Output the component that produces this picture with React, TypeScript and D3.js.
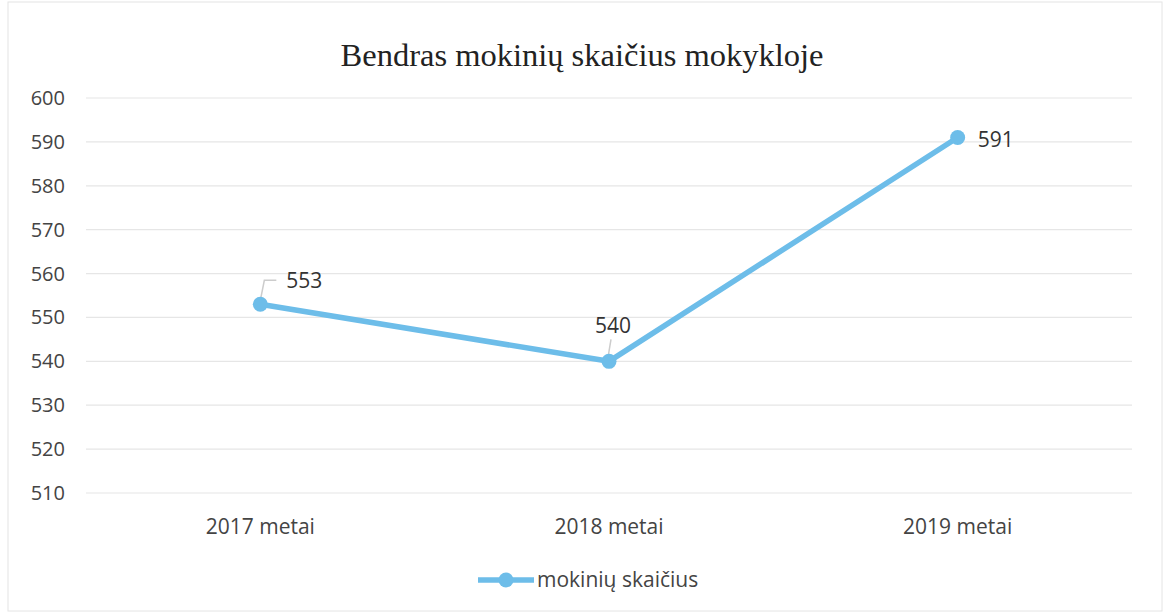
import React from "react";
import * as d3 from "d3";

const categories = ["2017 metai", "2018 metai", "2019 metai"];
const values = [553, 540, 591];
const yTicks = [510, 520, 530, 540, 550, 560, 570, 580, 590, 600];
const seriesName = "mokinių skaičius";
const title = "Bendras mokinių skaičius mokykloje";

const W = 1166;
const H = 613;
const left = 86;
const right = 1132;
const top = 98;
const bottom = 493;
const color = "#6dbde9";
const font = "'Open Sans', 'Liberation Sans', sans-serif";

export default function App() {
  const x = d3.scaleBand<string>().domain(categories).range([left, right]);
  const y = d3.scaleLinear().domain([510, 600]).range([bottom, top]);
  const cx = (c: string) => (x(c) as number) + x.bandwidth() / 2;
  const line = d3
    .line<number>()
    .x((_, i) => cx(categories[i]))
    .y((d) => y(d));

  const labelPos = [
    { dx: 26, dy: -24, anchor: "start", leader: true },
    { dx: -14, dy: -36, anchor: "start", leader: true },
    { dx: 20, dy: 2, anchor: "start", leader: false },
  ];

  return (
    <svg width={W} height={H} style={{ position: "absolute", left: 0, top: 0, background: "#fff" }}>
      <rect x={8} y={2} width={W - 12} height={H - 4} fill="#fff" stroke="#e4e4e4" />
      <text x={582} y={66} textAnchor="middle" fontFamily="'Liberation Serif', 'DejaVu Serif', serif" fontSize={32.5} fill="#222">
        {title}
      </text>
      {yTicks.map((t) => (
        <g key={t}>
          <line x1={left} x2={right} y1={y(t)} y2={y(t)} stroke="#e6e6e6" strokeWidth={1.2} />
          <text x={65} y={y(t)} dy="0.35em" textAnchor="end" fontFamily={font} fontSize={20} fill="#444">
            {t}
          </text>
        </g>
      ))}
      {categories.map((c) => (
        <text key={c} x={cx(c)} y={527} dy="0.35em" textAnchor="middle" fontFamily={font} fontSize={21} fill="#444">
          {c}
        </text>
      ))}
      <path d={line(values) || ""} fill="none" stroke={color} strokeWidth={5.5} strokeLinejoin="round" />
      {values.map((v, i) => {
        const px = cx(categories[i]);
        const py = y(v);
        const lp = labelPos[i];
        return (
          <g key={i}>
            {lp.leader && i === 0 && (
              <polyline points={`${px},${py - 4} ${px + 4},${py - 24} ${px + 16},${py - 24}`} fill="none" stroke="#ccc" strokeWidth={1.5} />
            )}
            {lp.leader && i === 1 && (
              <line x1={px - 1} y1={py - 4} x2={px + 2} y2={py - 22} stroke="#ccc" strokeWidth={1.5} />
            )}
            <circle cx={px} cy={py} r={7.5} fill={color} />
            <text x={px + lp.dx} y={py + lp.dy} dy="0.35em" textAnchor={lp.anchor} fontFamily={font} fontSize={21} fill="#333">
              {v}
            </text>
          </g>
        );
      })}
      <g>
        <line x1={478} x2={534} y1={580} y2={580} stroke={color} strokeWidth={5.5} />
        <circle cx={506} cy={580} r={7.5} fill={color} />
        <text x={537} y={580} dy="0.35em" fontFamily={font} fontSize={21} fill="#444">
          {seriesName}
        </text>
      </g>
    </svg>
  );
}
